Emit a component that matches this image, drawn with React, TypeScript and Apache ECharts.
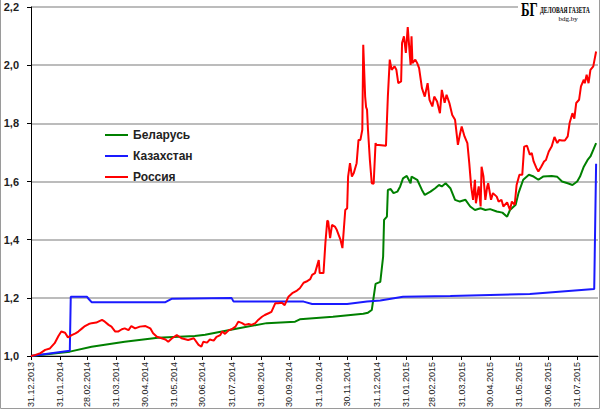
import React, { useEffect, useRef } from "react";
import * as echarts from "echarts";

// Month-end tick labels of the x axis
const monthEndLabels = [
  "31.12.2013", "31.01.2014", "28.02.2014", "31.03.2014", "30.04.2014", "31.05.2014",
  "30.06.2014", "31.07.2014", "31.08.2014", "30.09.2014", "31.10.2014", "30.11.2014",
  "31.12.2014", "31.01.2015", "28.02.2015", "31.03.2015", "30.04.2015", "31.05.2015",
  "30.06.2015", "31.07.2015",
];

// Y axis ticks
const yTicks = [1.0, 1.2, 1.4, 1.6, 1.8, 2.0, 2.2];

const seriesNames = ["Беларусь", "Казахстан", "Россия"];
const seriesColors = ["#008000", "#1a1aff", "#ff0000"];

// Days since 31.12.2013 and index values (31.12.2013 = 1)
const belarusDays = [0, 41, 64, 99, 134, 173, 184, 214, 249, 279, 284, 319, 351, 356, 360, 364, 369, 372, 373, 376, 377, 380, 383, 387, 390, 393, 397, 401, 402, 408, 413, 416, 422, 427, 431, 434, 438, 443, 448, 453, 459, 464, 469, 475, 480, 485, 492, 498, 503, 506, 512, 515, 520, 526, 531, 536, 541, 550, 556, 561, 567, 572, 577, 580, 584, 588, 591, 594, 597];
const belarusValues = [1.0, 1.015, 1.032, 1.049, 1.063, 1.069, 1.073, 1.092, 1.113, 1.118, 1.126, 1.135, 1.145, 1.149, 1.158, 1.248, 1.255, 1.342, 1.468, 1.479, 1.571, 1.574, 1.56, 1.565, 1.583, 1.611, 1.619, 1.594, 1.617, 1.606, 1.571, 1.554, 1.565, 1.577, 1.588, 1.583, 1.594, 1.577, 1.537, 1.531, 1.537, 1.514, 1.502, 1.508, 1.502, 1.505, 1.497, 1.493, 1.479, 1.502, 1.52, 1.56, 1.606, 1.623, 1.617, 1.606, 1.617, 1.619, 1.616, 1.6, 1.594, 1.588, 1.6, 1.617, 1.651, 1.674, 1.686, 1.709, 1.732];

const kazakhstanDays = [0, 41, 42, 59, 61, 64, 142, 149, 212, 214, 288, 297, 334, 355, 369, 393, 443, 527, 595, 597];
const kazakhstanValues = [1.0, 1.018, 1.204, 1.204, 1.196, 1.185, 1.185, 1.197, 1.199, 1.187, 1.187, 1.179, 1.179, 1.187, 1.191, 1.204, 1.206, 1.213, 1.23, 1.661];

const russiaDays = [0, 4, 10, 15, 20, 25, 29, 32, 36, 39, 43, 47, 50, 54, 57, 61, 64, 69, 75, 78, 82, 85, 89, 92, 96, 99, 103, 106, 110, 115, 121, 126, 129, 133, 138, 142, 145, 149, 154, 159, 166, 172, 177, 180, 182, 186, 189, 193, 196, 200, 202, 205, 209, 212, 216, 219, 223, 226, 230, 233, 237, 240, 244, 247, 251, 254, 258, 261, 265, 268, 272, 276, 281, 284, 288, 291, 295, 297, 300, 304, 305, 309, 311, 313, 314, 316, 318, 321, 323, 327, 329, 332, 334, 335, 337, 339, 341, 344, 346, 348, 350, 351, 353, 354, 355, 356, 358, 360, 362, 364, 365, 375, 377, 379, 381, 384, 386, 388, 391, 392, 394, 396, 398, 399, 401, 402, 403, 406, 408, 410, 413, 416, 419, 421, 424, 426, 429, 432, 434, 437, 439, 442, 445, 448, 451, 453, 455, 458, 461, 463, 465, 467, 469, 470, 473, 475, 476, 478, 480, 482, 483, 486, 488, 492, 494, 497, 499, 503, 506, 508, 511, 513, 516, 519, 521, 524, 527, 529, 531, 534, 536, 539, 542, 544, 547, 550, 553, 556, 558, 561, 564, 567, 569, 572, 574, 576, 579, 581, 584, 585, 587, 589, 591, 594, 595, 597];
const russiaValues = [1.0, 1.003, 1.01, 1.021, 1.026, 1.044, 1.069, 1.084, 1.08, 1.064, 1.072, 1.078, 1.084, 1.095, 1.103, 1.11, 1.113, 1.115, 1.124, 1.118, 1.107, 1.101, 1.084, 1.084, 1.092, 1.095, 1.089, 1.103, 1.095, 1.101, 1.103, 1.095, 1.078, 1.066, 1.061, 1.057, 1.049, 1.061, 1.072, 1.061, 1.055, 1.061, 1.038, 1.032, 1.049, 1.046, 1.057, 1.053, 1.066, 1.072, 1.084, 1.076, 1.089, 1.092, 1.101, 1.118, 1.113, 1.107, 1.11, 1.107, 1.113, 1.124, 1.135, 1.141, 1.147, 1.152, 1.181, 1.181, 1.183, 1.175, 1.204, 1.216, 1.225, 1.233, 1.252, 1.256, 1.264, 1.279, 1.285, 1.33, 1.285, 1.285, 1.388, 1.466, 1.462, 1.405, 1.451, 1.445, 1.434, 1.399, 1.371, 1.502, 1.508, 1.617, 1.663, 1.617, 1.629, 1.663, 1.743, 1.743, 1.778, 2.07, 1.892, 1.856, 1.847, 1.778, 1.674, 1.594, 1.592, 1.732, 1.726, 1.723, 1.892, 2.019, 1.984, 1.996, 1.984, 1.938, 1.944, 2.076, 2.099, 2.042, 2.131, 2.087, 2.001, 2.099, 2.007, 2.019, 2.007, 1.99, 1.921, 1.892, 1.938, 1.881, 1.858, 1.892, 1.875, 1.835, 1.915, 1.871, 1.898, 1.87, 1.829, 1.812, 1.726, 1.76, 1.789, 1.755, 1.732, 1.663, 1.583, 1.537, 1.606, 1.525, 1.583, 1.514, 1.651, 1.617, 1.537, 1.583, 1.594, 1.537, 1.56, 1.548, 1.531, 1.537, 1.514, 1.528, 1.502, 1.531, 1.52, 1.588, 1.623, 1.623, 1.72, 1.723, 1.692, 1.698, 1.669, 1.646, 1.634, 1.651, 1.669, 1.674, 1.703, 1.72, 1.753, 1.732, 1.743, 1.741, 1.741, 1.755, 1.801, 1.835, 1.816, 1.87, 1.881, 1.927, 1.95, 1.938, 1.967, 1.938, 1.984, 1.996, 2.013, 2.047];

const xMaxDay = 599;

const dayOf = (s: string) => {
  const [d, m, y] = s.split(".").map(Number);
  return Math.round((Date.UTC(y, m - 1, d) - Date.UTC(2013, 11, 31)) / 86400000);
};
const monthEndDays = monthEndLabels.map(dayOf);
const labelByDay = new Map<number, string>();
monthEndDays.forEach((d, i) => labelByDay.set(d, monthEndLabels[i]));

const zip = (xs: number[], ys: number[]) => xs.map((x, i) => [x, ys[i]]);
const seriesData = [
  zip(belarusDays, belarusValues),
  zip(kazakhstanDays, kazakhstanValues),
  zip(russiaDays, russiaValues),
];

export default function App() {
  const ref = useRef<HTMLDivElement>(null);
  useEffect(() => {
    if (!ref.current) return;
    const chart = echarts.init(ref.current, null, { renderer: "svg" });
    chart.setOption({
      animation: false,
      backgroundColor: "#ffffff",
      grid: { left: 31, right: 2, top: 7, bottom: 55, containLabel: false },
      legend: {
        orient: "vertical",
        left: 100,
        top: 123,
        icon: "rect",
        itemWidth: 23,
        itemHeight: 2,
        itemGap: 7,
        data: seriesNames,
        textStyle: {
          fontFamily: "Liberation Sans, Arial, sans-serif",
          fontWeight: "bold",
          fontSize: 12,
          color: "#222",
          lineHeight: 14,
        },
      },
      xAxis: {
        type: "value",
        min: 0,
        max: xMaxDay,
        splitLine: { show: false },
        axisLine: { show: true, lineStyle: { color: "#000", width: 1 } },
        axisTick: { show: true, customValues: monthEndDays, length: 4, lineStyle: { color: "#000" } },
        axisLabel: {
          customValues: monthEndDays,
          rotate: 90,
          margin: 6,
          fontSize: 9,
          color: "#222",
          fontFamily: "Liberation Sans, Arial, sans-serif",
          formatter: (v: number) => labelByDay.get(Math.round(v)) ?? "",
        },
      },
      yAxis: {
        type: "value",
        min: yTicks[0],
        max: yTicks[yTicks.length - 1],
        interval: 0.2,
        axisLine: { show: true, lineStyle: { color: "#000", width: 1 } },
        axisTick: { show: true, length: 4, lineStyle: { color: "#000" } },
        splitLine: { show: true, lineStyle: { color: "#a6a6a6", width: 1.5 } },
        axisLabel: {
          margin: 12,
          fontSize: 11,
          fontWeight: "bold",
          color: "#222",
          fontFamily: "Liberation Sans, Arial, sans-serif",
          formatter: (v: number) => v.toFixed(1).replace(".", ","),
        },
      },
      series: seriesNames.map((name, i) => ({
        name,
        type: "line",
        data: seriesData[i],
        symbol: "none",
        showSymbol: false,
        color: seriesColors[i],
        lineStyle: { width: 2, color: seriesColors[i] },
        z: 2 + i,
      })),
      graphic: [
        {
          type: "polyline",
          silent: true,
          shape: { points: [[0.5, 0], [0.5, 408.5], [599.5, 408.5], [599.5, 0]] },
          style: { stroke: "#9a9a9a", lineWidth: 1, fill: "none" },
          z: 100,
        },
        {
          type: "rect",
          silent: true,
          shape: { x: 518, y: 0, width: 81, height: 23 },
          style: { fill: "#ffffff" },
          z: 100,
        },
        {
          type: "text",
          silent: true,
          x: 521,
          y: 1,
          scaleX: 0.72,
          style: { text: "БГ", font: "bold 18px 'Liberation Serif', 'DejaVu Serif', serif", fill: "#000" },
          z: 101,
        },
        {
          type: "text",
          silent: true,
          x: 540,
          y: 6,
          scaleX: 0.7,
          style: { text: "ДЕЛОВАЯ ГАЗЕТА", font: "bold 8px 'Liberation Serif', 'DejaVu Serif', serif", fill: "#000" },
          z: 101,
        },
        {
          type: "text",
          silent: true,
          x: 568,
          y: 15,
          style: { text: "bdg.by", font: "7px 'Liberation Serif', serif", fill: "#000", align: "center" },
          z: 101,
        },
      ],
    });
    return () => chart.dispose();
  }, []);
  return <div ref={ref} style={{ position: "absolute", left: 0, top: 0, width: 600, height: 411 }} />;
}
